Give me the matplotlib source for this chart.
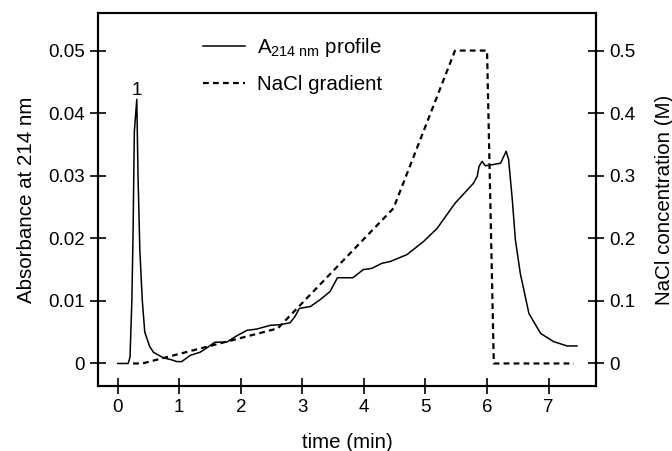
import matplotlib
matplotlib.use("Agg")
import matplotlib.pyplot as plt

plt.rcParams['font.family'] = ['Liberation Sans', 'DejaVu Sans']
plt.rcParams['mathtext.fontset'] = 'custom'
plt.rcParams['mathtext.rm'] = 'Liberation Sans'
plt.rcParams['mathtext.it'] = 'Liberation Sans:italic'

# Absorbance at 214 nm profile
time_abs = [0.0, 0.17, 0.20, 0.23, 0.25, 0.27, 0.31, 0.33, 0.36, 0.40, 0.44, 0.52,
            0.58, 0.74, 0.87, 0.96, 1.04, 1.18, 1.34, 1.45, 1.58, 1.77, 1.93,
            2.10, 2.26, 2.48, 2.64, 2.80, 2.88, 2.95, 3.13, 3.29, 3.45, 3.57,
            3.82, 3.99, 4.13, 4.29, 4.43, 4.70, 4.97, 5.19, 5.48, 5.78, 5.84,
            5.87, 5.92, 5.97, 6.05, 6.22, 6.31, 6.35, 6.41, 6.46, 6.54, 6.68,
            6.87, 7.08, 7.30, 7.46]
absorbance = [0.0, 0.0, 0.001, 0.010, 0.021, 0.037, 0.0422, 0.030, 0.018, 0.010, 0.005, 0.0027,
              0.0018, 0.0009, 0.0006, 0.0003, 0.0003, 0.0013, 0.0018, 0.0025, 0.0034, 0.0034, 0.0044,
              0.0053, 0.0055, 0.0061, 0.0062, 0.0065, 0.0075, 0.0088, 0.0091, 0.0102, 0.0115, 0.0137,
              0.0137, 0.0150, 0.0152, 0.0160, 0.0163, 0.0174, 0.0195, 0.0216, 0.0256, 0.0288, 0.0299,
              0.0315, 0.0323, 0.0316, 0.0317, 0.0320, 0.0339, 0.0326, 0.0262, 0.0198, 0.0144, 0.0080,
              0.0048, 0.0035, 0.0028, 0.0028]

# NaCl gradient
time_nacl = [0.25, 0.40, 2.60, 4.48, 5.48, 6.00, 6.11, 7.41]
nacl = [0.0, 0.0, 0.056, 0.248, 0.50, 0.50, 0.0, 0.0]

x_ticks = [0, 1, 2, 3, 4, 5, 6, 7]
y_ticks_left = [0, 0.01, 0.02, 0.03, 0.04, 0.05]
y_ticklabels_left = ['0', '0.01', '0.02', '0.03', '0.04', '0.05']
y_ticks_right = [0, 0.1, 0.2, 0.3, 0.4, 0.5]
y_ticklabels_right = ['0', '0.1', '0.2', '0.3', '0.4', '0.5']

fs = 13.5
fl = 14.8
fig = plt.figure(figsize=(6.72, 4.51), dpi=100)
ax = fig.add_axes([98/672, 1-386/451, (596-98)/672, (386-13)/451])
ax2 = ax.twinx()

l1, = ax.plot(time_abs, absorbance, color='black', lw=1.1, label=r'A$_{\mathrm{214\ nm}}$ profile')
l2, = ax2.plot(time_nacl, nacl, color='black', lw=1.6, linestyle=(0, (2.6, 1.9)),
               label='NaCl gradient')

ax.set_xlim(-0.32, 7.77)
ax.set_ylim(-0.0036, 0.0560)
ax2.set_ylim(-0.036, 0.560)

ax.set_xticks(x_ticks)
ax.set_yticks(y_ticks_left)
ax.set_yticklabels(y_ticklabels_left)
ax2.set_yticks(y_ticks_right)
ax2.set_yticklabels(y_ticklabels_right)

for a in (ax, ax2):
    for sp in a.spines.values():
        sp.set_linewidth(1.5)
    a.tick_params(direction='inout', length=11.5, width=1.2, labelsize=fs, pad=3.5)

ax.set_xlabel('time (min)', fontsize=fl, labelpad=12)
ax.set_ylabel('Absorbance at 214 nm', fontsize=fl, labelpad=9)
ax2.set_ylabel('NaCl concentration (M)', fontsize=fl, labelpad=14)

ax.text(0.31, 0.0423, '1', fontsize=fs, ha='center', va='bottom')

ax.legend([l1, l2], [l1.get_label(), l2.get_label()], loc='upper left',
          bbox_to_anchor=((203-98)/498, (386-36)/373), frameon=False,
          fontsize=fl, handlelength=2.05, handletextpad=0.6,
          labelspacing=0.8, borderpad=0, borderaxespad=0)

fig.savefig('out.png', dpi=100)
